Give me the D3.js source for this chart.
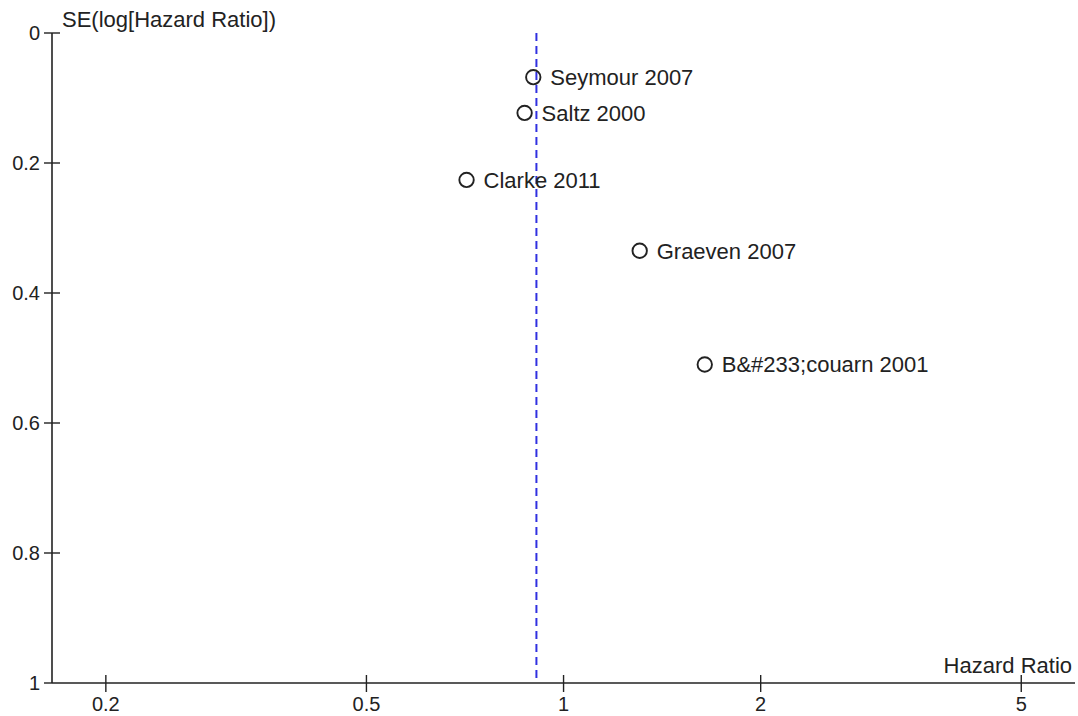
<!DOCTYPE html>
<html>
<head>
<meta charset="utf-8">
<script src="https://cdn.jsdelivr.net/npm/d3@7.9.0/dist/d3.min.js"></script>
<style>
  body { margin: 0; background: #fff; }
  svg text { font-family: "Liberation Sans", Arial, sans-serif; font-size: 22px; fill: #222; }
  svg text.tick { font-size: 20px; }
</style>
</head>
<body>
<svg width="1078" height="716"></svg>
<script>
// studies in the funnel plot
const studies = ['Seymour 2007', 'Saltz 2000', 'Clarke 2011', 'Graeven 2007', 'B&#233;couarn 2001'];
const hazardRatio = [0.899, 0.872, 0.711, 1.307, 1.643];
const seLogHR = [0.068, 0.123, 0.226, 0.335, 0.51];
const pooledHR = 0.909;

const xTicks = [0.2, 0.5, 1, 2, 5];
const yTicks = [0, 0.2, 0.4, 0.6, 0.8, 1];

const svg = d3.select('svg');

let x = d3.scaleLog().domain([0.1655, 6.04]).range([52, 1075]);
let y = d3.scaleLinear().domain([0, 1]).range([33, 683]);

const axisColor = '#222';

// y axis
svg.append('line')
  .attr('x1', x.range()[0]).attr('x2', x.range()[0])
  .attr('y1', y(0)).attr('y2', y(1))
  .attr('stroke', axisColor).attr('stroke-width', 1.6);

yTicks.forEach((t) => {
  svg.append('line')
    .attr('x1', x.range()[0] - 8).attr('x2', t === 1 ? x.range()[0] : x.range()[0] + 8)
    .attr('y1', y(t)).attr('y2', y(t))
    .attr('stroke', axisColor).attr('stroke-width', 1.4);
  svg.append('text')
    .attr('class', 'tick')
    .attr('x', 40).attr('y', y(t))
    .attr('dy', '0.36em')
    .attr('text-anchor', 'end')
    .text(t);
});

// x axis
svg.append('line')
  .attr('x1', x.range()[0]).attr('x2', x.range()[1])
  .attr('y1', y(1)).attr('y2', y(1))
  .attr('stroke', axisColor).attr('stroke-width', 1.6);

xTicks.forEach((t) => {
  svg.append('line')
    .attr('x1', x(t)).attr('x2', x(t))
    .attr('y1', y(1) - 8).attr('y2', y(1) + 9)
    .attr('stroke', axisColor).attr('stroke-width', 1.4);
  svg.append('text')
    .attr('class', 'tick')
    .attr('x', x(t)).attr('y', 711)
    .attr('text-anchor', 'middle')
    .text(t);
});

// axis titles
svg.append('text').attr('x', 62).attr('y', 27).text('SE(log[Hazard Ratio])');
svg.append('text').attr('x', 1072).attr('y', 673).attr('text-anchor', 'end').text('Hazard Ratio');

// pooled estimate
svg.append('line')
  .attr('x1', x(pooledHR)).attr('x2', x(pooledHR))
  .attr('y1', y(0)).attr('y2', y(1))
  .attr('stroke', '#3030e0').attr('stroke-width', 2)
  .attr('stroke-dasharray', '8,5');

// studies
studies.forEach((name, i) => {
  let cx = x(hazardRatio[i]);
  let cy = y(seLogHR[i]);
  svg.append('circle')
    .attr('cx', cx).attr('cy', cy).attr('r', 7.2)
    .attr('fill', 'none')
    .attr('stroke', '#222').attr('stroke-width', 1.9);
  svg.append('text')
    .attr('x', cx + 17).attr('y', cy)
    .attr('dy', '0.36em')
    .text(name);
});
</script>
</body>
</html>
